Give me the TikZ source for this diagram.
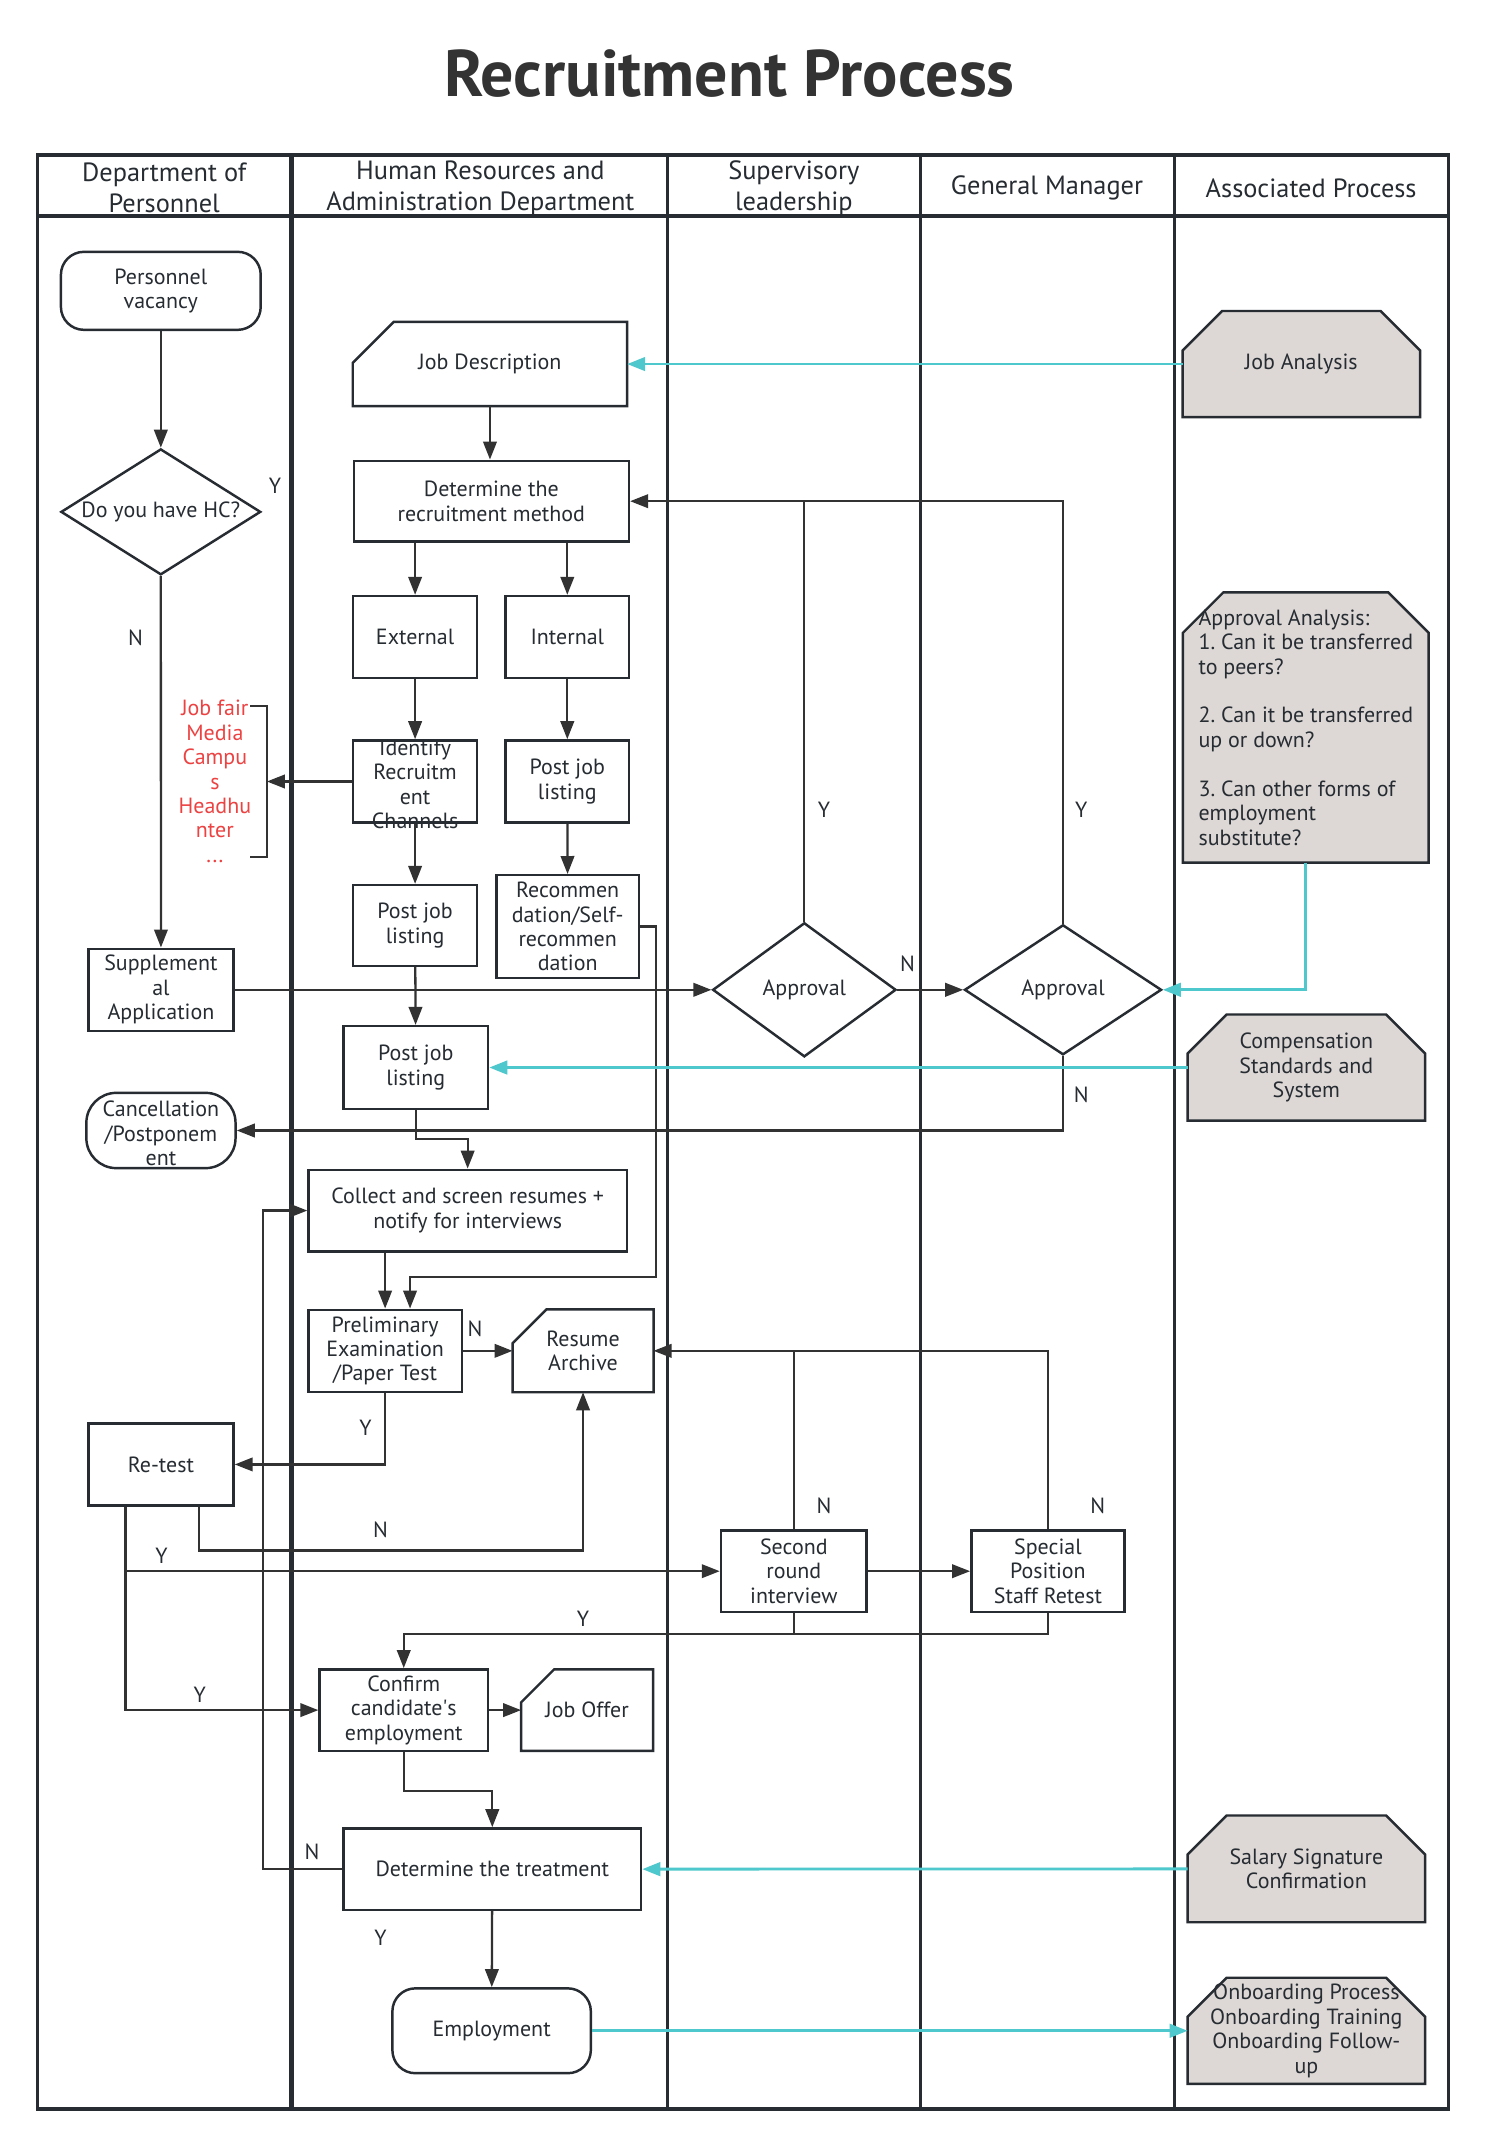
\documentclass[tikz,border=0pt]{standalone}
\usepackage{fontspec}
\setmainfont{PT Sans}
\usepackage{tikz}
\usetikzlibrary{shapes.geometric,arrows.meta}

\definecolor{ink}{RGB}{38,44,50}
\definecolor{wire}{RGB}{50,50,50}
\definecolor{aqua}{RGB}{78,200,204}
\definecolor{stone}{RGB}{221,216,214}
\definecolor{alert}{RGB}{236,66,66}
\definecolor{titlegray}{RGB}{51,51,51}

\def\px{0.2737mm}
\pgfdeclarelayer{back}
\pgfsetlayers{back,main}

% text that may run over its box
\newcommand{\ovf}[1]{\smash{\raisebox{-0.5em}{\begin{tabular}{@{}c@{}}#1\end{tabular}}}}
% box with the top left corner cut off
\newcommand{\cardedge}[2]{%
  \draw[boxline] ([xshift=#2]#1.north west) -- (#1.north east) -- (#1.south east)
    -- (#1.south west) -- ([yshift=-#2]#1.north west) -- cycle;}
% grey box with both top corners cut off
\newcommand{\linkedge}[2]{%
  \begin{pgfonlayer}{back}
  \filldraw[boxline, fill=stone] ([xshift=#2]#1.north west) -- ([xshift=-#2]#1.north east)
    -- ([yshift=-#2]#1.north east) -- (#1.south east) -- (#1.south west)
    -- ([yshift=-#2]#1.north west) -- cycle;
  \end{pgfonlayer}}

\begin{document}
\begin{tikzpicture}[x=0.2737mm, y=-0.2737mm,
    every node/.style={font=\fontsize{12.5}{13.9}\selectfont\frenchspacing, text=ink},
    lane/.style={draw=ink, line width=1.8pt},
    boxline/.style={draw=ink, line width=1.4pt, line join=miter},
    proc/.style={boxline, rectangle, align=center, inner sep=1pt},
    term/.style={proc, rounded corners=4.6mm},
    dec/.style={boxline, diamond, inner sep=0pt},
    card/.style={rectangle, align=center, inner sep=1pt},
    assoc/.style={rectangle, align=center, inner sep=1pt, minimum width=173*\px, minimum height=77*\px},
    head/.style={font=\fontsize{15}{17.5}\selectfont, align=center},
    lbl/.style={inner sep=0pt},
    redtxt/.style={text=alert, align=center, inner sep=0pt},
    arr/.style={draw=wire, line width=1.3pt, -{Triangle[length=3.6mm, width=2.7mm]}},
    link/.style={draw=wire, line width=1.3pt},
    tarr/.style={draw=aqua, line width=1.6pt, -{Triangle[length=3.6mm, width=2.7mm]}}]

\begin{pgfonlayer}{back}
  \fill[white] (0,0) rectangle (1085,1568);
\end{pgfonlayer}
\useasboundingbox (0,0) rectangle (1085,1568);

\node[font=\fontsize{37.5}{42}\selectfont\bfseries, text=titlegray] (title) at (533,54) {Recruitment Process};

% swimlanes
\draw[lane] (27.3,113.2) rectangle (1058.4,1541);
\draw[lane] (27.3,157.8) -- (1058.4,157.8);
\draw[lane, line width=2.8pt] (213.1,113.2) -- (213.1,1541);
\foreach \x in {487.7,672.4,858.3}
  \draw[lane] (\x,113.2) -- (\x,1541);

\node[head] (h1) at (120,137.5) {Department of\\Personnel};
\node[head] (h2) at (351,137.5) {Human Resources and\\Administration Department};
\node[head] (h3) at (580,137.5) {Supervisory\\leadership};
\node[head] (h4) at (765,137.5) {General Manager};
\node[head] (h5) at (958,137.5) {Associated Process};

% department of personnel
\node[term, minimum width=146*\px, minimum height=57*\px] (vac) at (117.5,212.5) {Personnel\\vacancy};
\node[dec, minimum width=146*\px, minimum height=92*\px] (hc) at (117.5,374) {\makebox[0pt]{Do you have HC?}};
\node[redtxt] (chan) at (157,571) {Job fair\\Media\\Campu\\s\\Headhu\\nter\\...};
\coordinate (brk) at (195,571);
\node[proc, minimum width=106*\px, minimum height=60*\px] (supp) at (117.6,723.2) {Supplement\\al\\Application};
\node[term, rounded corners=6mm, minimum width=109*\px, minimum height=55*\px] (cancel) at (117.6,826) {\ovf{Cancellation\\/Postponem\\ent}};
\node[proc, minimum width=106*\px, minimum height=60*\px] (retest) at (117.6,1070) {Re-test};

% human resources
\node[card, minimum width=200*\px, minimum height=61*\px] (jobdesc) at (358,266) {Job Description};
\node[proc, minimum width=201*\px, minimum height=59*\px] (method) at (359,366.2) {Determine the\\recruitment method};
\node[proc, minimum width=90.5*\px, minimum height=60*\px] (ext) at (303.3,465.5) {External};
\node[proc, minimum width=90*\px, minimum height=60*\px] (int) at (414.5,465.5) {Internal};
\node[proc, minimum width=90.5*\px, minimum height=60*\px] (ident) at (303.3,571) {\ovf{Identify\\Recruitm\\ent\\Channels}};
\node[proc, minimum width=90*\px, minimum height=60*\px] (post1) at (414.5,571) {Post job\\listing};
\node[proc, minimum width=90.5*\px, minimum height=59*\px] (post2) at (303.3,676.2) {Post job\\listing};
\node[proc, minimum width=104*\px, minimum height=75*\px] (recom) at (414.8,677) {Recommen\\dation/Self-\\recommen\\dation};
\node[proc, minimum width=105.6*\px, minimum height=60.5*\px] (post3) at (303.8,780) {Post job\\listing};
\node[proc, minimum width=232.5*\px, minimum height=59.5*\px] (collect) at (341.7,884.5) {Collect and screen resumes +\\notify for interviews};
\node[proc, minimum width=112*\px, minimum height=60*\px] (prelim) at (281.4,987) {Preliminary\\Examination\\/Paper Test};
\node[card, minimum width=102.5*\px, minimum height=60*\px] (archive) at (426,987) {Resume\\Archive};
\node[proc, minimum width=123*\px, minimum height=59.6*\px] (confirm) at (295,1249.5) {Confirm\\candidate\textquotesingle s\\employment};
\node[card, minimum width=96*\px, minimum height=59*\px] (offer) at (429,1249.5) {Job Offer};
\node[proc, minimum width=217.4*\px, minimum height=59.5*\px] (treat) at (359.7,1365.7) {Determine the treatment};
\node[term, minimum width=145*\px, minimum height=62*\px] (employ) at (359.2,1483.8) {Employment};
\cardedge{jobdesc}{8.2mm}
\cardedge{archive}{6.8mm}
\cardedge{offer}{6.6mm}

% supervisory leadership and general manager
\node[dec, minimum width=134*\px, minimum height=98*\px] (appr1) at (587.7,723.2) {Approval};
\node[proc, minimum width=106.4*\px, minimum height=59.7*\px] (second) at (580,1148) {Second\\round\\interview};
\node[dec, minimum width=144*\px, minimum height=95*\px] (appr2) at (776.7,723.2) {Approval};
\node[proc, minimum width=112*\px, minimum height=59.7*\px] (special) at (765.7,1148) {Special\\Position\\Staff Retest};

% associated process
\node[assoc] (jobana) at (950.8,266) {Job Analysis};
\node[assoc, minimum width=179*\px, minimum height=197*\px, align=left, inner sep=0pt] (analysis) at (954.1,531.5)
  {Approval Analysis:\\1. Can it be transferred\\to peers?\\[13.9pt]2. Can it be transferred\\up or down?\\[13.9pt]3. Can other forms of\\employment\\substitute?};
\node[assoc] (comp) at (954.5,780) {Compensation\\Standards and\\System};
\node[assoc, minimum height=77.5*\px] (salary) at (954.5,1365.5) {Salary Signature\\Confirmation};
\node[assoc] (onboard) at (954.5,1483.8) {Onboarding Process\\Onboarding Training\\Onboarding Follow-\\up};
\linkedge{jobana}{7.9mm}
\linkedge{analysis}{8.1mm}
\linkedge{comp}{7.8mm}
\linkedge{salary}{7.8mm}
\linkedge{onboard}{7.8mm}

% connectors
\draw[arr] (vac) -- (hc);
\draw[arr] (hc) -- (supp);
\draw[arr] (jobdesc.south) -- (jobdesc.south |- method.north);
\draw[arr] (method.south -| ext.north) -- (ext.north);
\draw[arr] (method.south -| int.north) -- (int.north);
\draw[arr] (ext) -- (ident);
\draw[arr] (int) -- (post1);
\draw[arr] (post1) -- (recom);
\draw[arr] (ident) -- (post2);
\draw[arr] (post2) -- (post3);
\draw[arr] (ident.west) -- (brk);
\draw[link] (brk) ++(-12,-55) -- ++(12,0) -- ++(0,110) -- ++(-12,0);
\draw[arr] (supp) -- (appr1);
\draw[arr] (appr1) -- (appr2);
\draw[link] (appr1.north) -- (appr1.north |- method.east);
\draw[arr] (appr2.north) |- (method.east);
\draw[arr] (appr2.south) |- (cancel.east);
\draw[arr] (post3.south) -- ++(0,21) -| (collect.north);
\draw[arr] (collect.south -| prelim.north) -- (prelim.north);
\coordinate (rj) at (299.6,933.3);
\draw[arr] (recom.east) -- ++(11.5,0) |- (rj) -- (rj |- prelim.north);
\draw[arr] (prelim) -- (archive);
\draw[arr] (prelim.south) |- (retest.east);
\draw[arr] (retest.south east) ++(-26,0) -- ++(0,32) -| (archive.south);
\draw[arr] (retest.south west) ++(28,0) |- (second.west);
\draw[arr] (retest.south west) ++(28,0) |- (confirm.west);
\draw[arr] (second) -- (special);
\draw[link] (second.north) -- (second.north |- archive.east);
\draw[arr] (special.north) |- (archive.east);
\draw[link] (second.south) -- ++(0,15);
\draw[arr] (special.south) -- ++(0,15) -| (confirm.north);
\draw[arr] (confirm) -- (offer);
\draw[arr] (confirm.south) -- ++(0,28.5) -| (treat.north);
\draw[arr] (treat.west) -- ++(-58,0) |- (collect.west);
\draw[arr] (treat) -- (employ);

% links to associated processes
\draw[tarr] (jobana.west) -- (jobdesc.east);
\draw[tarr] (analysis.south) |- (appr2.east);
\draw[tarr] (comp.west) -- (post3.east);
\draw[tarr] (salary.west) -- (treat.east);
\draw[tarr] (employ.east) -- (onboard.west);

% branch labels
\node[lbl] (y1) at (201,355) {Y};
\node[lbl] (n1) at (99,466) {N};
\node[lbl] (y2) at (602,592) {Y};
\node[lbl] (y3) at (790,592) {Y};
\node[lbl] (n2) at (663,704) {N};
\node[lbl] (n3) at (790,800) {N};
\node[lbl] (n4) at (347,971) {N};
\node[lbl] (y4) at (267,1043) {Y};
\node[lbl] (n5) at (278,1118) {N};
\node[lbl] (y5) at (118,1137) {Y};
\node[lbl] (n6) at (602,1100) {N};
\node[lbl] (n7) at (802,1100) {N};
\node[lbl] (y6) at (426,1183) {Y};
\node[lbl] (y7) at (146,1238) {Y};
\node[lbl] (n8) at (228,1353) {N};
\node[lbl] (y8) at (278,1416) {Y};
\end{tikzpicture}
\end{document}
